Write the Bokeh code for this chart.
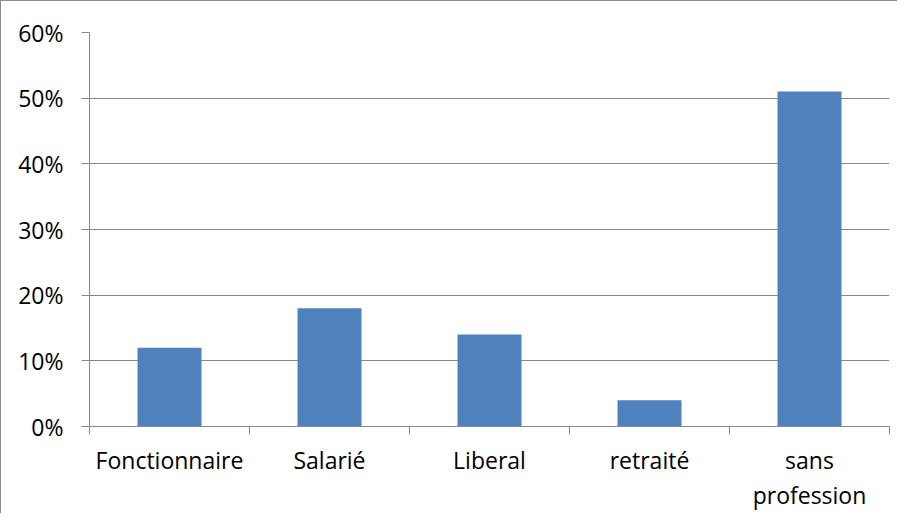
from bokeh.plotting import figure
from bokeh.models import FixedTicker, NumeralTickFormatter, Range1d, ColumnDataSource
from bokeh.embed import file_html
from bokeh.resources import INLINE

categories = ["Fonctionnaire", "Salarié", "Liberal", "retraité", "sans\nprofession"]
values = [0.12, 0.18, 0.14, 0.04, 0.51]
y_ticks = [0.0, 0.1, 0.2, 0.3, 0.4, 0.5, 0.6]

centers = [i + 0.5 for i in range(len(categories))]
bounds = [float(i) for i in range(len(categories) + 1)]

GRID = "#868686"
FONT = "Open Sans"

p = figure(frame_width=800, frame_height=394, output_backend="svg", toolbar_location=None,
           x_range=Range1d(0, len(categories)), y_range=Range1d(0, 0.6),
           min_border_left=88, min_border_right=8, min_border_top=31, min_border_bottom=86)
p.styles = {"border-left": "1px solid #8c8c8c", "border-top": "1px solid #8c8c8c"}

src = ColumnDataSource(dict(x=centers, top=values))
p.vbar(x="x", top="top", width=0.4, source=src, fill_color="#4F81BD", line_color=None)

p.outline_line_color = None
p.xgrid.grid_line_color = None
p.ygrid.grid_line_color = GRID
p.ygrid.grid_line_width = 1
p.ygrid.ticker = FixedTicker(ticks=y_ticks)

# y axis
p.yaxis.ticker = FixedTicker(ticks=y_ticks)
p.yaxis.formatter = NumeralTickFormatter(format="0%")
p.yaxis.axis_line_color = GRID
p.yaxis.major_tick_line_color = GRID
p.yaxis.major_tick_in = 0
p.yaxis.major_tick_out = 8
p.yaxis.minor_tick_line_color = None
p.yaxis.major_label_standoff = 18
p.yaxis.major_label_text_font = FONT
p.yaxis.major_label_text_font_size = "23px"
p.yaxis.major_label_text_color = "#000000"

# x axis
p.xaxis.ticker = FixedTicker(ticks=centers, minor_ticks=bounds)
p.xaxis.major_label_overrides = {c: lab for c, lab in zip(centers, categories)}
p.xaxis.axis_line_color = GRID
p.xaxis.major_tick_line_color = None
p.xaxis.major_tick_in = 0
p.xaxis.major_tick_out = 0
p.xaxis.minor_tick_line_color = GRID
p.xaxis.minor_tick_in = 0
p.xaxis.minor_tick_out = 8
p.xaxis.major_label_standoff = 9
p.xaxis.major_label_text_font = FONT
p.xaxis.major_label_text_font_size = "23px"
p.xaxis.major_label_text_color = "#000000"
p.xaxis.major_label_text_line_height = 1.1

open("out.html", "w").write(file_html(p, INLINE))
